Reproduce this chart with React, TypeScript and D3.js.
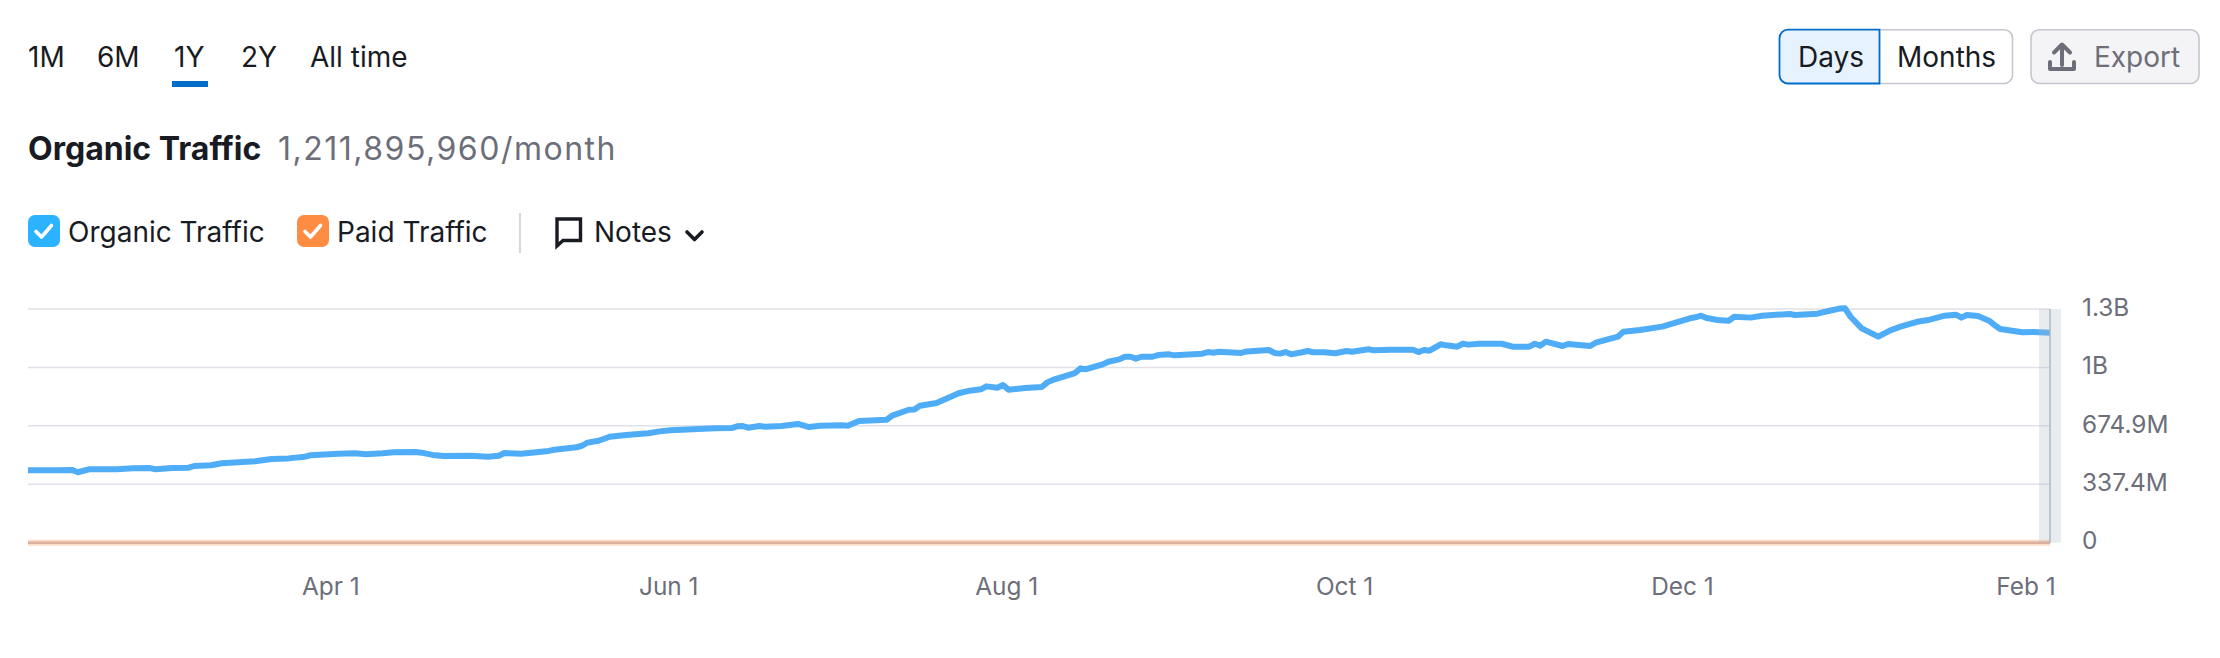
import React from "react";
import * as d3 from "d3";

const WIDTH = 2220;
const HEIGHT = 658;
const FONT = "Inter, 'Noto Sans', sans-serif";

const rangeTabs = ["1M", "6M", "1Y", "2Y", "All time"];
const rangeTabX = [28, 97, 174, 241, 310];
const title = "Organic Traffic";
const subtitle = "1,211,895,960/month";
const startDate = "2025-02-05T08:00:00Z";

// days since the chart's start
const organicDays = [
  0, 5, 8, 9, 11, 16, 19, 22, 23, 26, 29, 30, 33, 35, 41, 44, 47, 50, 51, 56, 59, 61, 64, 66, 70, 71, 73, 75, 80, 83, 85, 86, 89, 94, 95, 99, 100,
  101, 103, 105, 108, 112, 114, 116, 124, 127, 128, 129, 130, 132, 133, 136, 139, 141, 143, 147, 148, 150, 155, 156, 159, 160, 161, 164, 168, 170,
  172, 173, 175, 176, 177, 180, 183, 184, 185, 189, 190, 191, 194, 195, 197, 198, 199, 200, 201, 203, 204, 206, 207, 212, 213, 214, 215, 219, 220,
  224, 225, 226, 227, 228, 230, 231, 232, 234, 236, 238, 239, 242, 243, 246, 250, 251, 252, 253, 255, 256, 258, 259, 260, 262, 266, 268, 271, 272,
  273, 274, 277, 278, 282, 283, 286, 287, 288, 291, 295, 300, 301, 302, 303, 305, 307, 308, 311, 313, 318, 319, 323, 325, 327, 328, 329, 331, 334,
  336, 338, 341, 343, 346, 348, 349, 350, 352, 354, 355, 356, 360, 362, 365,
];
// millions of visits
const organicValues = [
  418, 418, 420, 407, 424, 424, 430, 431, 424, 431, 433, 443, 447, 459, 470, 483, 487, 497, 505, 514, 516, 511, 516, 522, 524, 520, 507, 501, 502, 497, 502, 518, 514, 530, 537, 551, 560,
  578, 589, 612, 622, 632, 643, 649, 661, 662, 672, 674, 664, 674, 670, 674, 686, 668, 676, 678, 676, 703, 710, 734, 768, 770, 791, 807, 863, 878,
  886, 903, 895, 911, 884, 893, 899, 926, 940, 980, 1007, 1002, 1030, 1045, 1059, 1074, 1074, 1063, 1074, 1074, 1084, 1088, 1082, 1092, 1101, 1097, 1103, 1096, 1105,
  1113, 1096, 1092, 1101, 1088, 1100, 1107, 1100, 1100, 1094, 1107, 1103, 1117, 1111, 1115, 1115, 1101, 1113, 1109, 1146, 1140, 1132, 1149, 1144, 1149, 1149, 1132, 1132, 1149,
  1138, 1161, 1136, 1148, 1136, 1155, 1181, 1190, 1219, 1229, 1248, 1296, 1302, 1311, 1298, 1286, 1282, 1305, 1300, 1311, 1321, 1315, 1323, 1338, 1352, 1354, 1305, 1238, 1190,
  1224, 1248, 1276, 1286, 1311, 1317, 1300, 1315, 1309, 1282, 1257, 1234, 1215, 1217, 1212,
];
const paidDays = [0, 365];
const paidValues = [0, 0];

const yTickValues = [0, 337.45, 674.9, 1012.35, 1349.8];
const yTickLabels = ["0", "337.4M", "674.9M", "1B", "1.3B"];
const xTickDates = ["2025-04-01", "2025-06-01", "2025-08-01", "2025-10-01", "2025-12-01", "2026-02-01"];
const xTickLabels = ["Apr 1", "Jun 1", "Aug 1", "Oct 1", "Dec 1", "Feb 1"];

const MS_DAY = 86400000;
const t0 = new Date(startDate).getTime();
const toDate = (d: number) => new Date(t0 + d * MS_DAY);

const x = d3.scaleUtc().domain([toDate(0), toDate(365)]).range([28, 2050]);
const y = d3.scaleLinear().domain([0, 1349.8]).range([542.7, 309]);

const organicPoints = organicDays.map((d, i) => [d, organicValues[i]] as [number, number]);
const paidPoints = paidDays.map((d, i) => [d, paidValues[i]] as [number, number]);
const line = d3
  .line<[number, number]>()
  .x((p) => x(toDate(p[0])))
  .y((p) => y(p[1]))
  .curve(d3.curveLinear);

const INK = "#191b23";
const GREY = "#6c6e79";
const BORDER = "#c4c7cf";
const BLUE = "#006dca";
const UI_SIZE = 28;
const TICK_SIZE = 24.4;

const Check = ({ ox, oy }: { ox: number; oy: number }) => (
  <path d={`M${ox + 8} ${oy + 16.5}l5.5 5.5 10-11.5`} fill="none" stroke="#fff" strokeWidth={3.6} strokeLinecap="round" strokeLinejoin="round" />
);

export default function App() {
  return (
    <svg width={WIDTH} height={HEIGHT} viewBox={`0 0 ${WIDTH} ${HEIGHT}`} style={{ position: "absolute", left: 0, top: 0, background: "#fff" }} fontFamily={FONT}>
      {/* range tabs */}
      {rangeTabs.map((t, i) => (
        <text key={t} x={rangeTabX[i]} y={67} fontSize={UI_SIZE} fill={INK}>
          {t}
        </text>
      ))}
      <rect x={172} y={81} width={36} height={6} fill={BLUE} />

      {/* title */}
      <text x={28} y={160} fontSize={32} fontWeight={700} fill={INK}>
        {title}
      </text>
      <text x={278} y={160} fontSize={32} letterSpacing={1.5} fill={GREY}>
        {subtitle}
      </text>

      {/* legend */}
      <rect x={28} y={215} width={32} height={32} rx={7} fill="#2bb3ff" />
      <Check ox={28} oy={215} />
      <text x={68} y={242} fontSize={UI_SIZE} fill={INK}>
        Organic Traffic
      </text>
      <rect x={297} y={215} width={32} height={32} rx={7} fill="#ff8c43" />
      <Check ox={297} oy={215} />
      <text x={337} y={242} fontSize={UI_SIZE} fill={INK}>
        Paid Traffic
      </text>
      <line x1={520} x2={520} y1={213} y2={253} stroke={BORDER} strokeWidth={1.4} />
      <path d="M557 219h23.5v21.5h-17.5l-6 5.5z" fill="none" stroke={INK} strokeWidth={3.4} strokeLinejoin="miter" />
      <text x={594} y={242} fontSize={UI_SIZE} fill={INK}>
        Notes
      </text>
      <path d="M687 232l7.5 7.5 7.5-7.5" fill="none" stroke={INK} strokeWidth={3.6} strokeLinecap="round" strokeLinejoin="round" />

      {/* buttons */}
      <path d="M1880 29.7H2004a8.5 8.5 0 0 1 8.5 8.5V75a8.5 8.5 0 0 1-8.5 8.5H1880" fill="#fff" stroke={BORDER} strokeWidth={1.6} />
      <path d="M1879.5 29.7H1788a8.5 8.5 0 0 0-8.5 8.5V75a8.5 8.5 0 0 0 8.5 8.5H1879.5z" fill="#e6f2fd" stroke={BLUE} strokeWidth={1.8} />
      <text x={1798} y={67} fontSize={UI_SIZE} fill={INK}>
        Days
      </text>
      <text x={1897} y={67} fontSize={UI_SIZE} fill={INK}>
        Months
      </text>
      <rect x={2031} y={29.7} width={168} height={53.8} rx={8.5} fill="#f4f4f6" stroke={BORDER} strokeWidth={1.6} />
      <path d="M2062 65V46M2054 52.5l8-8 8 8" fill="none" stroke={GREY} strokeWidth={4} strokeLinecap="round" strokeLinejoin="round" />
      <path d="M2050 62v7h24v-7" fill="none" stroke={GREY} strokeWidth={4} strokeLinecap="round" strokeLinejoin="round" />
      <text x={2094} y={67} fontSize={UI_SIZE} fill={GREY}>
        Export
      </text>

      {/* grid */}
      {yTickValues.map((v, i) => (
        <line key={v} x1={x.range()[0]} x2={x.range()[1]} y1={y(v)} y2={y(v)} stroke={i === 0 ? "#cec0c6" : "#e0e1e9"} strokeWidth={i === 0 ? 2.4 : 1.5} />
      ))}

      {/* series */}
      <path d={line(paidPoints) ?? ""} fill="none" stroke="#ff8c43" strokeOpacity={0.3} strokeWidth={6} />
      <path d={line(organicPoints) ?? ""} fill="none" stroke="#4fadf7" strokeWidth={6} strokeLinejoin="round" strokeLinecap="butt" />

      {/* current-period band */}
      <rect x={2039} y={309} width={22} height={233.7} fill="#a9b7be" fillOpacity={0.26} />
      <line x1={2050} x2={2050} y1={309} y2={543} stroke="#b0b8c0" strokeWidth={1.5} />

      {/* axes */}
      {yTickValues.map((v, i) => (
        <text key={v} x={2082} y={y(v) + 6.7} fontSize={TICK_SIZE} fill={GREY}>
          {yTickLabels[i]}
        </text>
      ))}
      {xTickDates.map((d, i) => (
        <text key={d} x={x(new Date(d + "T00:00:00Z"))} y={595} textAnchor="middle" fontSize={TICK_SIZE} fill={GREY}>
          {xTickLabels[i]}
        </text>
      ))}
    </svg>
  );
}
